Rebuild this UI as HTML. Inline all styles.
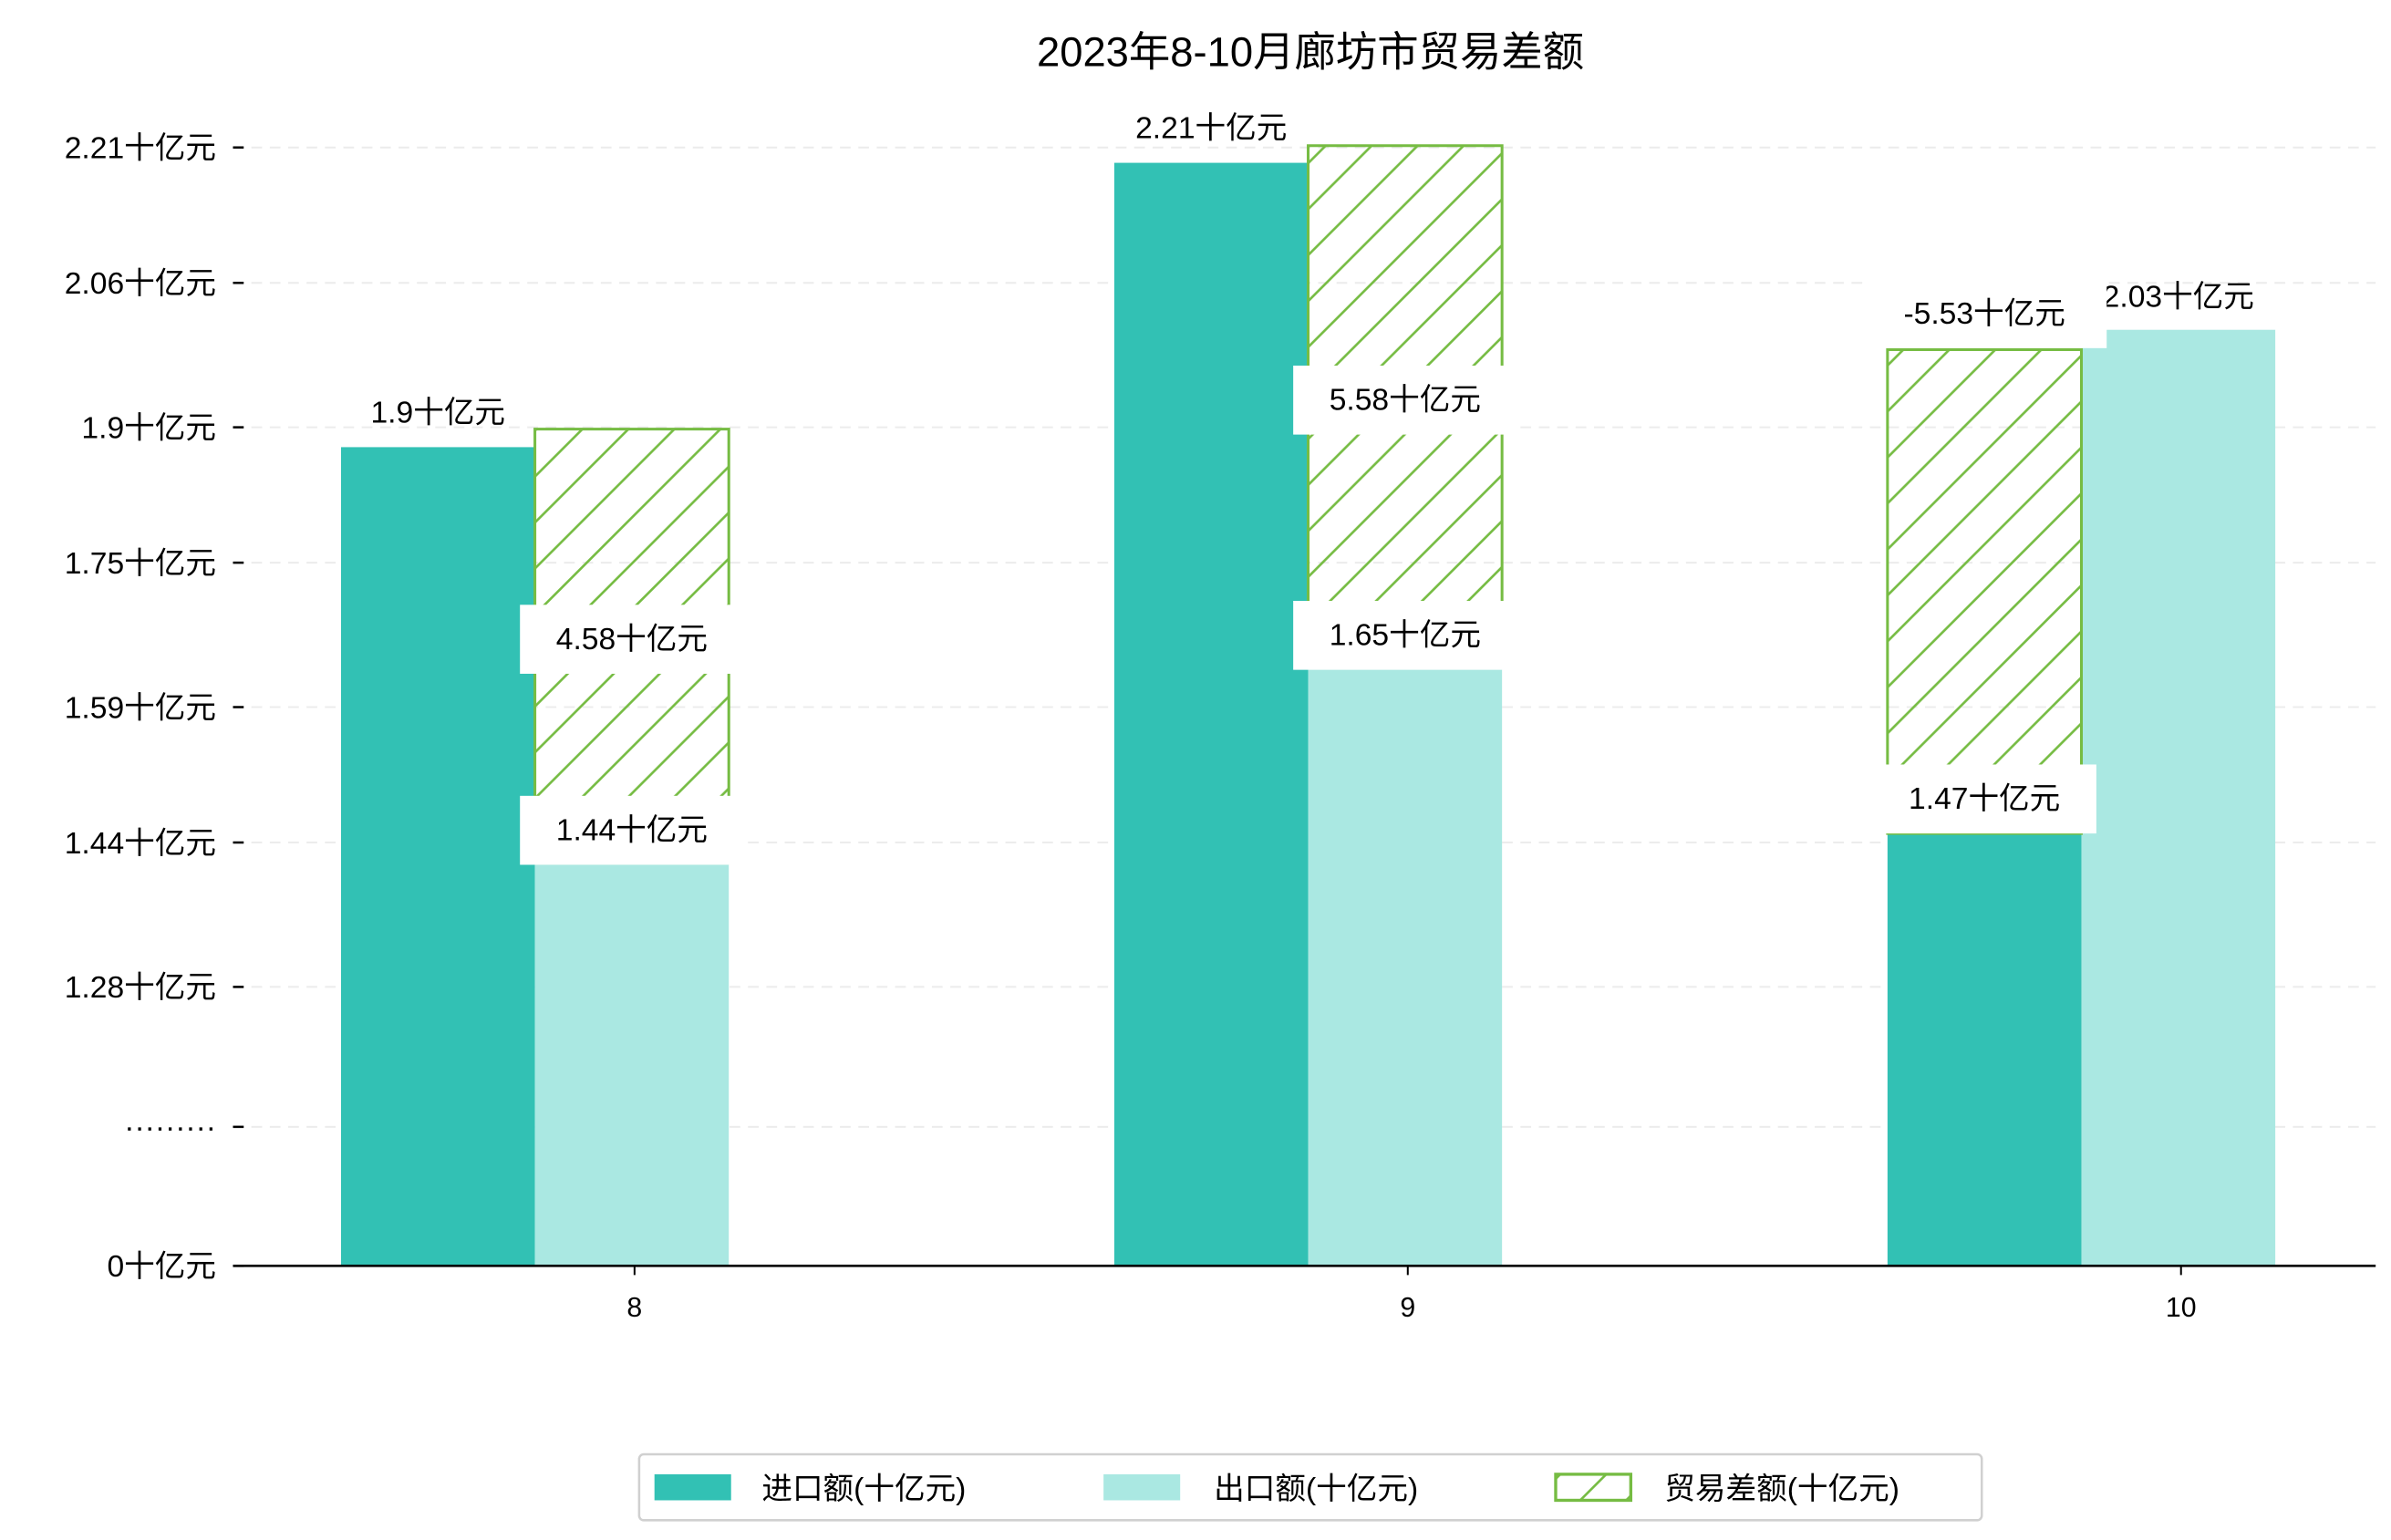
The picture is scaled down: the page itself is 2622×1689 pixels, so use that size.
<!DOCTYPE html>
<html><head><meta charset="utf-8">
<style>
html,body{margin:0;padding:0;background:#fff;}
svg{display:block;}
text{font-family:"WenQuanYi Zen Hei","Liberation Sans","Noto Sans CJK SC",sans-serif;fill:#000;}
</style></head>
<body>
<svg id="chart" width="2622" height="1689" viewBox="0 0 1560 1004.9" xmlns="http://www.w3.org/2000/svg">
<defs>
<pattern id="hatch" patternUnits="userSpaceOnUse" width="30" height="30">
<path d="M-7.5,7.5 L7.5,-7.5 M0,30 L30,0 M22.5,37.5 L37.5,22.5" stroke="#76bc43" stroke-width="1.6"/>
</pattern>
</defs>
<text x="855" y="43" text-anchor="middle" font-size="27">2023年8-10月廊坊市贸易差额</text>
<g id="grid"></g>
<g id="bars"></g>
<g id="labels"></g>
<g id="axes"></g>
<g>
<rect x="417" y="949" width="876" height="43" rx="3" fill="#fff" stroke="#d0d0d0" stroke-width="1.5"/>
<rect x="427" y="962" width="50" height="17" fill="#32c1b4"/>
<text x="497" y="978" font-size="20">进口额(十亿元)</text>
<rect x="720" y="962" width="50" height="17" fill="#aae8e2"/>
<text x="792" y="978" font-size="20">出口额(十亿元)</text>
<rect x="1015" y="962" width="49" height="17" fill="url(#hatch)" stroke="#76bc43" stroke-width="2"/>
<text x="1086" y="978" font-size="20">贸易差额(十亿元)</text>
</g>
</svg>
<script>
const categories = ["8", "9", "10"];
const importValues = [1.878, 2.193, 1.45];
const exportValues = [1.417, 1.633, 2.008];
const balanceTop = [1.898, 2.212, 1.986];
const balanceBase = [1.417, 1.633, 1.45];
const importLabels = ["1.9十亿元", "2.21十亿元", "1.47十亿元"];
const exportLabels = ["1.44十亿元", "1.65十亿元", "2.03十亿元"];
const balanceLabels = ["4.58十亿元", "5.58十亿元", "-5.53十亿元"];
const yTickValues = [1.125, 1.28, 1.44, 1.59, 1.75, 1.9, 2.06, 2.21];
const yTickLabels = ["·········", "1.28十亿元", "1.44十亿元", "1.59十亿元", "1.75十亿元", "1.9十亿元", "2.06十亿元", "2.21十亿元"];

const NS = "http://www.w3.org/2000/svg";
const x0 = 152, x1 = 1550, yBase = 826;
function yScale(v){ return Math.min(yBase, 644 - (v - 1.28) * 589); }
function xTick(i){ return 414 + i * 504.5; }
const bw = 126.5;
function mk(tag, attrs, parent){ const e = document.createElementNS(NS, tag); for (const k in attrs) e.setAttribute(k, attrs[k]); parent.appendChild(e); return e; }
const grid = document.getElementById('grid'), bars = document.getElementById('bars'), labels = document.getElementById('labels'), axes = document.getElementById('axes');

const allTicks = [{v:0, t:"0十亿元", y:yBase}].concat(yTickValues.map((v,i)=>({v:v, t:yTickLabels[i], y:yScale(v)})));
allTicks.forEach((tk) => {
  if (tk.v !== 0) {
    const g = mk('line', {x1:x0, x2:x1, y1:tk.y, y2:tk.y, stroke:'#ececec', 'stroke-width':1.2, 'stroke-dasharray':'7,5'}, grid);
    
    
  }
  const tm = mk('line', {x1:x0, x2:x0+7, y1:tk.y, y2:tk.y, stroke:'#000', 'stroke-width':1.5}, axes);
  
  
  const tl = mk('text', {x:141, y:tk.y+7, 'text-anchor':'end', 'font-size':20}, axes);
  tl.textContent = tk.t;
  
  
});

function labelBox(cx, cy, txt, box, name){
  if (box) {
    const r = mk('rect', {x:cx - 73, y:cy - 22, width:146, height:45, fill:'#fff'}, labels);
    
    
  }
  const t = mk('text', {x:cx, y:cy + 7, 'text-anchor':'middle', 'font-size':20}, labels);
  t.textContent = txt;
  
  
}

categories.forEach((c, i) => {
  const b = xTick(i) - 65;
  const xi = b - bw, xe = b;
  const yi = yScale(importValues[i]);
  const ri = mk('rect', {x:xi, y:yi, width:bw, height:yBase - yi, fill:'#32c1b4'}, bars);
  
  
  const ye = yScale(exportValues[i]);
  const re = mk('rect', {x:xe, y:ye, width:bw, height:yBase - ye, fill:'#aae8e2'}, bars);
  
  
  const hx = exportValues[i] < importValues[i] ? xe : xi;
  const ht = yScale(balanceTop[i]), hb = yScale(balanceBase[i]);
  const rh = mk('rect', {x:hx, y:ht, width:bw, height:hb - ht, fill:'url(#hatch)', stroke:'#76bc43', 'stroke-width':1.8}, bars);
  
  
  const cx = xTick(i);
  const xt = mk('line', {x1:cx, x2:cx, y1:yBase, y2:yBase + 6, stroke:'#000', 'stroke-width':1.2}, axes);
  
  
  const xl = mk('text', {x:cx, y:yBase + 33, 'text-anchor':'middle', 'font-size':18}, axes);
  xl.textContent = c;
  
  
});

categories.forEach((c, i) => {
  const b = xTick(i) - 65;
  const importOnTop = importValues[i] >= exportValues[i];
  const yi = yScale(importValues[i]), ye = yScale(exportValues[i]);
  labelBox(b - bw/2, yi - 23, importLabels[i], !importOnTop, 'label-import-' + c);
  labelBox(b + bw/2, ye - 22, exportLabels[i], importOnTop, 'label-export-' + c);
});
categories.forEach((c, i) => {
  const b = xTick(i) - 65;
  const importOnTop = importValues[i] >= exportValues[i];
  const ht = yScale(balanceTop[i]), hb = yScale(balanceBase[i]);
  if (importOnTop) labelBox(b + bw/2, (ht + hb)/2 - 5, balanceLabels[i], true, 'label-balance-' + c);
  else {
    const r = mk('rect', {x:b - bw - 14, y:ht - 46, width:157, height:45, fill:'#fff'}, labels);
    
    
    const t = mk('text', {x:b - bw/2, y:ht - 17, 'text-anchor':'middle', 'font-size':20}, labels);
    t.textContent = balanceLabels[i];
    
    
  }
});

const ax = mk('line', {x1:x0, x2:x1, y1:yBase, y2:yBase, stroke:'#000', 'stroke-width':1.6}, axes);


</script>
</body></html>
